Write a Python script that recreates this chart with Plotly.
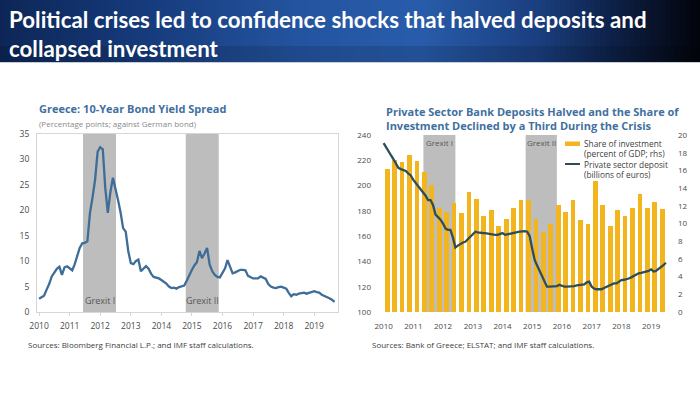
import plotly.graph_objects as go
import pandas as pd

# ---------------- data ----------------
# Greece 10-year spread vs German bond, monthly from Jan 2010 (percentage points)
spread_values = [
    2.6, 3.0, 3.2, 4.4, 5.5, 7.0, 7.8, 8.5, 8.9, 7.3, 8.8, 9.0,
    8.6, 8.2, 9.3, 10.8, 12.6, 13.5, 13.6, 13.9, 19.5, 22.5, 26.0, 31.5,
    32.4, 32.0, 24.5, 19.5, 23.5, 26.4, 24.5, 22.0, 19.5, 16.5, 15.8, 12.0,
    9.6, 9.4, 10.0, 10.3, 8.0, 8.6, 9.0, 8.5, 7.5, 6.9, 6.8, 6.6,
    6.3, 6.0, 5.6, 5.0, 4.7, 4.8, 4.6, 4.9, 5.0, 5.2, 6.2, 7.3,
    8.3, 9.2, 9.8, 12.0, 10.6, 11.5, 12.6, 9.3, 8.0, 7.3, 6.9, 6.8,
    7.6, 8.6, 10.2, 9.0, 7.6, 7.8, 8.0, 8.3, 8.3, 8.2, 7.1, 6.8,
    6.6, 6.6, 6.6, 7.0, 6.8, 6.5, 5.5, 5.0, 4.8, 4.7, 4.9, 5.0,
    4.8, 4.6, 3.8, 3.1, 3.5, 3.4, 3.6, 3.7, 3.8, 3.6, 3.8, 4.0,
    4.1, 3.9, 3.8, 3.4, 3.2, 3.0, 2.7, 2.4, 2.0,
]
spread_start = "2010-01-01"

# Private sector deposits, monthly from Jan 2010 (billions of euros, lhs)
deposit_values = [
    233.5, 230.5, 228.0, 224.0, 221.0, 217.5, 214.0, 213.0, 212.5, 211.5, 209.5, 208.0,
    204.5, 202.0, 199.5, 196.5, 194.5, 192.0, 188.5, 188.5, 184.5, 177.0, 175.0, 173.0,
    170.0, 166.0, 165.0, 165.0, 159.0, 151.0, 152.5, 154.0, 155.0, 155.5, 157.5, 159.5,
    161.0, 163.5, 163.0, 163.0, 162.5, 162.4, 162.0, 161.5, 161.0, 161.0, 161.0, 161.5,
    162.4, 161.0, 161.5, 162.0, 162.5, 163.0, 163.2, 163.5, 163.8, 164.0, 163.5, 160.0,
    150.0, 141.0, 137.0, 133.0, 129.0, 124.0, 120.0, 120.0, 120.0, 120.0, 120.5, 121.5,
    120.5, 120.0, 120.0, 120.0, 120.0, 120.5, 121.0, 121.3, 121.5, 121.8, 123.5, 124.0,
    120.0, 118.5, 118.0, 118.0, 118.0, 119.0, 120.0, 120.5, 121.5, 122.6, 122.6, 124.0,
    125.2, 125.5, 125.8, 126.5, 127.4, 128.5, 129.5, 130.6, 131.0, 131.5, 131.9, 132.5,
    133.7, 132.0, 132.5, 134.0, 135.3, 137.0, 139.0,
]
deposit_start = "2010-01-01"

# Share of investment, quarterly from 2010Q1 (percent of GDP, rhs)
investment_share = [
    16.2, 17.2, 16.9, 17.7, 17.1, 15.8, 14.3, 11.8, 11.3, 12.3, 11.2, 13.6,
    12.8, 10.8, 11.5, 9.7, 10.5, 11.7, 12.6, 12.6, 10.5, 9.0, 10.0, 12.1,
    11.3, 12.6, 10.4, 10.0, 14.8, 12.1, 9.7, 11.5, 10.9, 11.7, 13.3, 11.8,
    12.4, 11.6,
]
investment_start = "2010-01-01"

years = list(range(2010, 2020))
year_labels = [str(y) for y in years]

spread_grexit = [("2011-06-10", "2012-07-08", "Grexit I"), ("2014-10-19", "2015-11-17", "Grexit II")]
deposit_grexit = [("2011-05-05", "2012-06-01", "Grexit I"), ("2014-10-12", "2015-10-31", "Grexit II")]

banner_title = "Political crises led to confidence shocks that halved deposits and<br>collapsed investment"
left_title = "Greece: 10-Year Bond Yield Spread"
left_subtitle = "(Percentage points; against German bond)"
left_source = "Sources: Bloomberg Financial L.P.; and IMF staff calculations."
right_title = "Private Sector Bank Deposits Halved and the Share of<br>Investment Declined by a Third During the Crisis"
right_source = "Sources: Bank of Greece; ELSTAT; and IMF staff calculations."
inv_name = "Share of investment<br>(percent of GDP; rhs)"
dep_name = "Private sector deposit<br>(billions of euros)"

# ---------------- styling ----------------
W, H = 700, 395
def px(x):
    return x / W
def py(y):
    return 1 - y / H

FONT = "Open Sans"
TICK_COLOR = "#4a4a4a"
TITLE_COLOR = "#41709f"
SHADE = "#bdbdbd"
BAR_COLOR = "#f2b51d"
DEP_COLOR = "#2f4d58"
SPREAD_COLOR = "#3e6d97"

spread_dates = pd.date_range(spread_start, periods=len(spread_values), freq="MS")
deposit_dates = pd.date_range(deposit_start, periods=len(deposit_values), freq="MS")
inv_dates = pd.date_range(investment_start, periods=len(investment_share), freq="QS")
year_ticks = [f"{y}-01-01" for y in years]

fig = go.Figure()

fig.add_trace(go.Scatter(
    x=spread_dates, y=spread_values, xaxis="x", yaxis="y", mode="lines",
    line=dict(color=SPREAD_COLOR, width=2.3), showlegend=False, name=left_title))

fig.add_trace(go.Bar(
    x=inv_dates, y=investment_share, xaxis="x2", yaxis="y2",
    xperiod="M3", xperiodalignment="middle",
    width=[58 * 24 * 3600 * 1000] * len(investment_share),
    marker=dict(color=BAR_COLOR, line=dict(width=0)), showlegend=False, name=inv_name))

fig.add_trace(go.Scatter(
    x=deposit_dates, y=deposit_values, xaxis="x2", yaxis="y3", mode="lines",
    line=dict(color=DEP_COLOR, width=2.3), showlegend=False, name=dep_name))

shapes = []
# banner gradient (decoration)
stops = [(0, (13, 38, 86)), (120, (20, 55, 118)), (300, (36, 84, 160)), (420, (40, 92, 170)),
         (540, (26, 62, 126)), (620, (12, 30, 66)), (700, (2, 4, 10))]
def col_at(x):
    for (x0, c0), (x1, c1) in zip(stops[:-1], stops[1:]):
        if x0 <= x <= x1:
            t = (x - x0) / (x1 - x0)
            return "rgb(%d,%d,%d)" % tuple(round(a + (b - a) * t) for a, b in zip(c0, c1))
    return "rgb(0,0,0)"
step = 5
for i in range(0, W, step):
    shapes.append(dict(type="rect", xref="paper", yref="paper", x0=px(i), x1=px(i + step),
                       y0=py(62), y1=py(0), fillcolor=col_at(i + step / 2), line=dict(width=0), layer="below"))
shapes.append(dict(type="rect", xref="paper", yref="paper", x0=0, x1=1, y0=py(62), y1=py(46),
                   fillcolor="rgba(0,0,0,0.12)", line=dict(width=0), layer="below"))
shapes.append(dict(type="line", xref="paper", yref="paper", x0=0, x1=1, y0=py(62.5), y1=py(62.5),
                   line=dict(color="#c8ccd4", width=1), layer="below"))

# grexit shading
for s, e, _ in spread_grexit:
    shapes.append(dict(type="rect", xref="x", yref="y domain", x0=s, x1=e, y0=0, y1=1,
                       fillcolor=SHADE, line=dict(width=0), layer="below"))
for s, e, _ in deposit_grexit:
    shapes.append(dict(type="rect", xref="x2", yref="y2 domain", x0=s, x1=e, y0=0, y1=1,
                       fillcolor=SHADE, line=dict(width=0), layer="below"))

# manual legend swatches
shapes.append(dict(type="rect", xref="paper", yref="paper", x0=px(565), x1=px(580), y0=py(146), y1=py(141.5),
                   fillcolor=BAR_COLOR, line=dict(width=0)))
shapes.append(dict(type="line", xref="paper", yref="paper", x0=px(565), x1=px(580), y0=py(164), y1=py(164),
                   line=dict(color=DEP_COLOR, width=2)))

ann = []
ann.append(dict(text=banner_title, xref="paper", yref="paper", x=px(7), y=py(3.5), xanchor="left", yanchor="top",
                align="left", showarrow=False, font=dict(family="Lato", size=22.3, color="white", weight="bold")))
ann.append(dict(text=left_title, xref="paper", yref="paper", x=px(37), y=py(108), xanchor="left", yanchor="middle",
                showarrow=False, font=dict(family=FONT, size=11, color=TITLE_COLOR, weight="bold")))
ann.append(dict(text=left_subtitle, xref="paper", yref="paper", x=px(37), y=py(123), xanchor="left", yanchor="middle",
                showarrow=False, font=dict(family=FONT, size=8, color="#8a8a8a")))
ann.append(dict(text=right_title, xref="paper", yref="paper", x=px(384), y=py(118), xanchor="left", yanchor="middle",
                align="left", showarrow=False, font=dict(family=FONT, size=11, color=TITLE_COLOR, weight="bold")))
ann.append(dict(text=left_source, xref="paper", yref="paper", x=px(26), y=py(344), xanchor="left", yanchor="middle",
                showarrow=False, font=dict(family=FONT, size=8, color="#404040")))
ann.append(dict(text=right_source, xref="paper", yref="paper", x=px(370), y=py(344), xanchor="left", yanchor="middle",
                showarrow=False, font=dict(family=FONT, size=8, color="#404040")))
for s, e, lab in spread_grexit:
    mid = pd.Timestamp(s) + (pd.Timestamp(e) - pd.Timestamp(s)) / 2
    ann.append(dict(text=lab, xref="x", yref="y domain", x=mid, y=0.065, xanchor="center", yanchor="middle",
                    showarrow=False, font=dict(family=FONT, size=9, color="#555555")))
for s, e, lab in deposit_grexit:
    mid = pd.Timestamp(s) + (pd.Timestamp(e) - pd.Timestamp(s)) / 2
    ann.append(dict(text=lab, xref="x2", yref="y2 domain", x=mid, y=0.955, xanchor="center", yanchor="middle",
                    showarrow=False, font=dict(family=FONT, size=8, color="#555555")))
leg_font = dict(family=FONT, size=8.3, color="#404040")
for i, line in enumerate(inv_name.split("<br>") + dep_name.split("<br>")):
    ann.append(dict(text=line, xref="paper", yref="paper", x=px(582), y=py(143.5 + 10.3 * i), xanchor="left",
                    yanchor="middle", showarrow=False, font=leg_font))

tickfont = dict(family=FONT, size=8.5, color=TICK_COLOR)
tickfont_r = dict(family=FONT, size=8, color=TICK_COLOR)

fig.update_layout(
    width=W, height=H, margin=dict(l=0, r=0, t=0, b=0, autoexpand=False),
    paper_bgcolor="white", plot_bgcolor="white", showlegend=False, bargap=0,
    shapes=shapes, annotations=ann,
    xaxis=dict(domain=[px(37), px(338)], type="date", range=["2009-12-07", "2019-10-12"], anchor="y",
               tickvals=year_ticks, ticktext=year_labels, tickfont=tickfont, showgrid=False,
               showline=True, mirror=True, linecolor="#d6d6d6", linewidth=1, ticks="outside",
               ticklen=3, tickcolor="#d6d6d6", ticklabelstandoff=3, zeroline=False),
    yaxis=dict(domain=[py(312), py(134)], range=[0, 35], dtick=5, anchor="x", tickfont=tickfont,
               showgrid=False, showline=True, mirror=True, linecolor="#d6d6d6", linewidth=1,
               ticks="", ticklabelstandoff=5, zeroline=False),
    xaxis2=dict(domain=[px(378), px(670)], type="date", range=["2009-10-24", "2019-08-21"], anchor="y2",
                tickvals=year_ticks, ticktext=year_labels, tickfont=tickfont_r, showgrid=False,
                showline=False, ticks="", ticklabelstandoff=8, zeroline=False),
    yaxis2=dict(domain=[py(312), py(135)], range=[0, 20], dtick=2, anchor="x2", side="right",
                tickfont=tickfont_r, showgrid=False, showline=False, ticks="", ticklabelstandoff=7,
                zeroline=False),
    yaxis3=dict(range=[100, 240], dtick=20, anchor="x2", overlaying="y2", side="left",
                tickfont=tickfont_r, showgrid=False, showline=False, ticks="", ticklabelstandoff=6,
                zeroline=False),
)

fig.write_html("out.html", config={"displayModeBar": False},
               post_script="document.body.style.margin='0';document.body.style.overflow='hidden';")
